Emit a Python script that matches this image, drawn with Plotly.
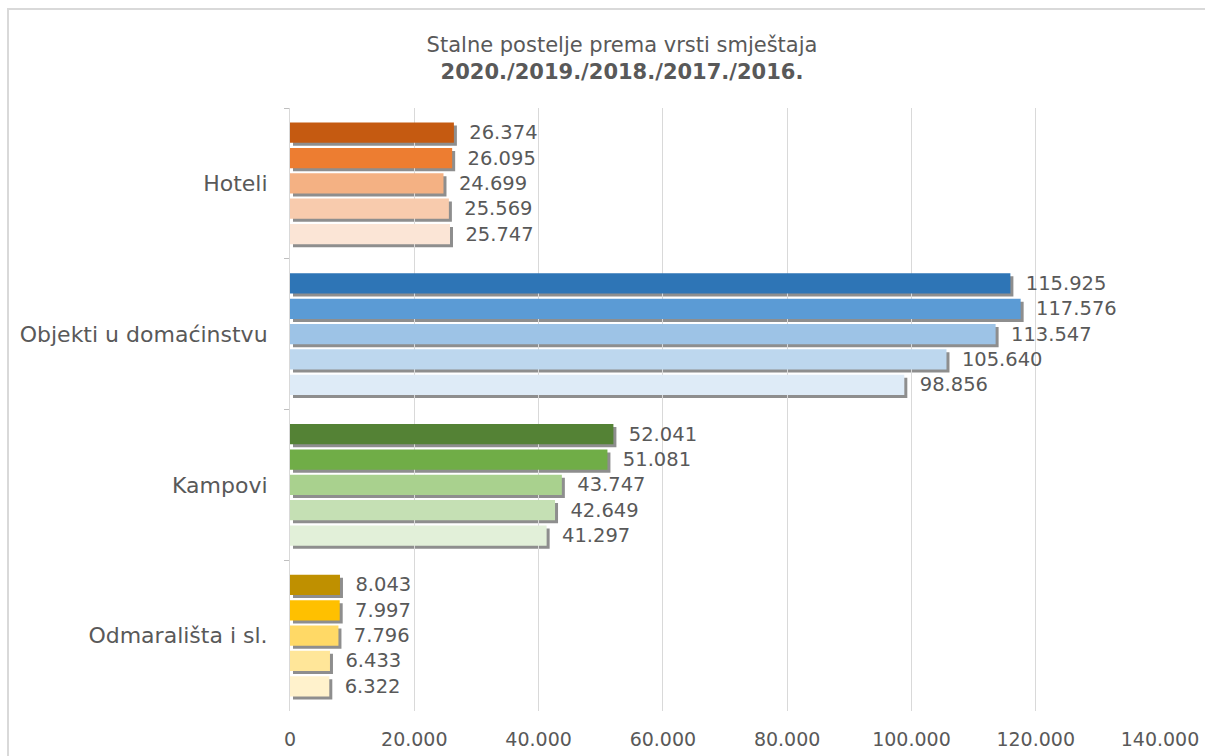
import plotly.graph_objects as go

categories = ["Hoteli", "Objekti u domaćinstvu", "Kampovi", "Odmarališta i sl."]
years = ["2020", "2019", "2018", "2017", "2016"]
values = {
    "2020": [26374, 115925, 52041, 8043],
    "2019": [26095, 117576, 51081, 7997],
    "2018": [24699, 113547, 43747, 7796],
    "2017": [25569, 105640, 42649, 6433],
    "2016": [25747, 98856, 41297, 6322],
}
colors = {
    "2020": ["#C55A11", "#2E75B6", "#548235", "#BF9000"],
    "2019": ["#ED7D31", "#5B9BD5", "#70AD47", "#FFC000"],
    "2018": ["#F4B183", "#9DC3E6", "#A9D18E", "#FFD966"],
    "2017": ["#F8CBAD", "#BDD7EE", "#C5E0B4", "#FFE699"],
    "2016": ["#FBE5D6", "#DEEBF7", "#E2F0D9", "#FFF2CC"],
}
x_ticks = [0, 20000, 40000, 60000, 80000, 100000, 120000, 140000]

FONT = "DejaVu Sans"
TXT = "#595959"
W, H = 1205, 756
ML, MR, MT, MB = 290, 42, 108, 42
SH = 3  # shadow offset in px
PW = W - ML - MR
PH = H - MT - MB
dx = SH / PW
dy = SH / PH

fig = go.Figure()

# shadows (subplot xy, shifted right/down, drawn beneath)
for yr in years:
    fig.add_trace(go.Bar(
        y=categories, x=values[yr], orientation="h",
        marker=dict(color="rgba(50,50,50,0.55)", line=dict(width=0)),
        hoverinfo="skip", showlegend=False, xaxis="x", yaxis="y",
    ))

# real bars (subplot x2y2)
for yr in years:
    fig.add_trace(go.Bar(
        y=categories, x=values[yr], orientation="h", name=yr,
        marker=dict(color=colors[yr], line=dict(width=0)),
        texttemplate="\u00a0\u00a0%{x:,.0f}",
        textposition="outside", constraintext="none", cliponaxis=False,
        textfont=dict(family=FONT, size=19.5, color=TXT),
        showlegend=False, xaxis="x2", yaxis="y2",
    ))

rng = [0, 140000]
fig.update_layout(
    width=W, height=H,
    margin=dict(l=ML, r=MR, t=MT, b=MB, autoexpand=False),
    paper_bgcolor="white", plot_bgcolor="rgba(0,0,0,0)",
    separators=",.",
    barmode="group", bargap=0.16, bargroupgap=0.2,
    font=dict(family=FONT, color=TXT),
    title=dict(
        text="Stalne postelje prema vrsti smještaja<br><b>2020./2019./2018./2017./2016.</b>",
        x=622 / W, xanchor="center", xref="container",
        y=1 - 52 / H, yanchor="middle", yref="container",
        font=dict(family=FONT, size=21, color=TXT),
    ),
    xaxis=dict(domain=[dx, 1], range=rng, visible=False, fixedrange=True),
    yaxis=dict(domain=[0, 1 - dy], categoryorder="array", categoryarray=categories,
               autorange="reversed", visible=False, anchor="x"),
    xaxis2=dict(domain=[0, 1 - dx], range=rng, anchor="y2",
                tickvals=x_ticks, tickformat=",.0f",
                showgrid=True, gridcolor="#D9D9D9", gridwidth=1,
                zeroline=False, showline=False, ticks="",
                ticklabelstandoff=15,
                tickfont=dict(family=FONT, size=19, color=TXT)),
    yaxis2=dict(domain=[dy, 1], anchor="x2", categoryorder="array", categoryarray=categories,
                autorange="reversed", showline=True, linecolor="#D9D9D9", linewidth=1,
                ticks="outside", tickson="boundaries", ticklen=5, tickcolor="#BFBFBF",
                ticklabelstandoff=17, showgrid=False,
                tickfont=dict(family=FONT, size=22, color=TXT)),
)

# chart frame (extends beyond the visible area, as in the reference)
fig.add_shape(type="rect", xref="paper", yref="paper",
              x0=(8 - ML) / PW, x1=(W + 20 - ML) / PW,
              y0=-(MB + 20) / PH, y1=1 + (MT - 9) / PH,
              line=dict(color="#D9D9D9", width=2), fillcolor="rgba(0,0,0,0)", layer="below")

fig.write_html("out.html", config={"displayModeBar": False},
               post_script="document.body.style.margin='0';document.body.style.overflow='hidden';")
